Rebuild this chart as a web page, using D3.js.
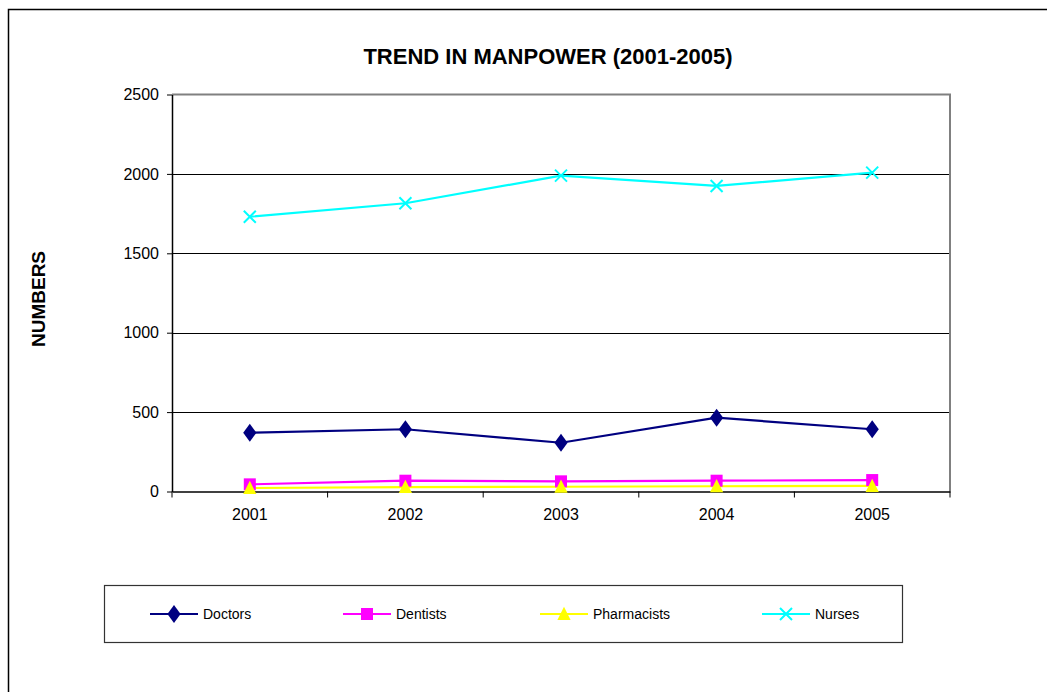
<!DOCTYPE html>
<html><head><meta charset="utf-8">
<script src="https://cdn.jsdelivr.net/npm/d3@7"></script>
<style>body{margin:0;background:#fff;}svg{display:block;font-family:"Liberation Sans",Arial,sans-serif;}</style>
</head><body>
<svg id="c" width="1047" height="692"></svg>
<script>
const years = ["2001","2002","2003","2004","2005"];
const doctors = [370, 392, 307, 465, 392];
const dentists = [45, 68, 64, 68, 72];
const pharmacists = [22, 28, 30, 33, 35];
const nurses = [1730, 1815, 1989, 1924, 2008];
const yTicks = [0, 500, 1000, 1500, 2000, 2500];
const seriesNames = ["Doctors","Dentists","Pharmacists","Nurses"];
const seriesColors = ["#000080","#FF00FF","#FFFF00","#00FFFF"];
const seriesMarkers = ["diamond","square","triangle","x"];
const seriesData = [doctors, dentists, pharmacists, nurses];

const svg = d3.select("#c");
// outer chart border
svg.append("rect").attr("x",8.5).attr("y",9.5).attr("width",1200).attr("height",900)
  .attr("fill","none").attr("stroke","#000").attr("stroke-width",1.5);

const L=172, R=950, T=94.5, B=491.5;
const x = d3.scaleBand().domain(years).range([L,R]);
const y = d3.scaleLinear().domain([0,2500]).range([B,T]);

// gridlines
svg.append("g").selectAll("line").data(yTicks.filter(d=>d>0&&d<2500)).join("line")
  .attr("x1",L).attr("x2",R).attr("y1",d=>Math.round(y(d))+0.5).attr("y2",d=>Math.round(y(d))+0.5)
  .attr("stroke","#000").attr("stroke-width",1);
// top and right plot border (gray)
svg.append("path").attr("d",`M${L},${T}H${R}V${B}`).attr("fill","none").attr("stroke","#808080").attr("stroke-width",2);

// y axis
const ya = svg.append("g").attr("transform",`translate(${L},0)`)
  .call(d3.axisLeft(y).tickValues(yTicks).tickFormat(d3.format("d")).tickSize(5).tickPadding(8).tickSizeOuter(0));
ya.select(".domain").attr("stroke","#000").attr("stroke-width",1.5);
ya.selectAll(".tick line").attr("stroke","#000");
ya.selectAll("text").attr("font-size",16).attr("font-family","Liberation Sans, Arial, sans-serif").attr("fill","#000");

// x axis
const xa = svg.append("g").attr("transform",`translate(0,${B})`)
  .call(d3.axisBottom(x).tickSize(0).tickPadding(17));
xa.select(".domain").attr("stroke","#000").attr("stroke-width",1.5);
xa.selectAll("text").attr("font-size",16).attr("font-family","Liberation Sans, Arial, sans-serif").attr("fill","#000");
// boundary ticks
const bounds = years.map(d=>x(d)).concat([x(years[years.length-1])+x.bandwidth()]);
svg.append("g").selectAll("line").data(bounds).join("line")
  .attr("x1",d=>d).attr("x2",d=>d).attr("y1",B).attr("y2",B+6).attr("stroke","#000").attr("stroke-width",1);

function marker(g, type, color, s){
  if(type==="diamond"){
    g.append("path").attr("d",`M0,${-s*0.75}L${s*0.55},0L0,${s*0.75}L${-s*0.55},0Z`).attr("fill",color);
  } else if(type==="square"){
    g.append("rect").attr("x",-s/2).attr("y",-s/2).attr("width",s).attr("height",s).attr("fill",color);
  } else if(type==="triangle"){
    g.append("path").attr("d",`M0,${-s*0.6}L${s*0.55},${s*0.5}L${-s*0.55},${s*0.5}Z`).attr("fill",color);
  } else {
    const h=s*0.5;
    g.append("path").attr("d",`M${-h},${-h}L${h},${h}M${h},${-h}L${-h},${h}`).attr("stroke",color).attr("stroke-width",2).attr("fill","none");
  }
}

const line = d3.line().x((d,i)=>x(years[i])+x.bandwidth()/2).y(d=>y(d));
seriesData.forEach((data,si)=>{
  svg.append("path").datum(data).attr("d",line).attr("fill","none")
    .attr("stroke",seriesColors[si]).attr("stroke-width",2.2);
});
seriesData.forEach((data,si)=>{
  data.forEach((v,i)=>{
    const g = svg.append("g").attr("transform",`translate(${x(years[i])+x.bandwidth()/2},${y(v)})`);
    marker(g, seriesMarkers[si], seriesColors[si], 12);
  });
});

// title
svg.append("text").attr("x",548).attr("y",64).attr("text-anchor","middle")
  .attr("font-weight","bold").attr("font-size",22).text("TREND IN MANPOWER (2001-2005)");
// y label
svg.append("text").attr("transform","translate(45,299) rotate(-90)").attr("text-anchor","middle")
  .attr("font-weight","bold").attr("font-size",19).text("NUMBERS");

// legend
svg.append("rect").attr("x",104.5).attr("y",585.5).attr("width",798).attr("height",57)
  .attr("fill","#fff").attr("stroke","#333").attr("stroke-width",1.2);
const legX = [150, 343, 540, 762];
seriesNames.forEach((n,si)=>{
  const g = svg.append("g").attr("transform",`translate(${legX[si]},614)`);
  g.append("line").attr("x1",0).attr("x2",48).attr("y1",0).attr("y2",0).attr("stroke",seriesColors[si]).attr("stroke-width",2.2);
  const m = g.append("g").attr("transform","translate(24,0)");
  marker(m, seriesMarkers[si], seriesColors[si], 12);
  g.append("text").attr("x",53).attr("y",5).attr("font-size",14).text(n);
});
</script>
</body></html>
